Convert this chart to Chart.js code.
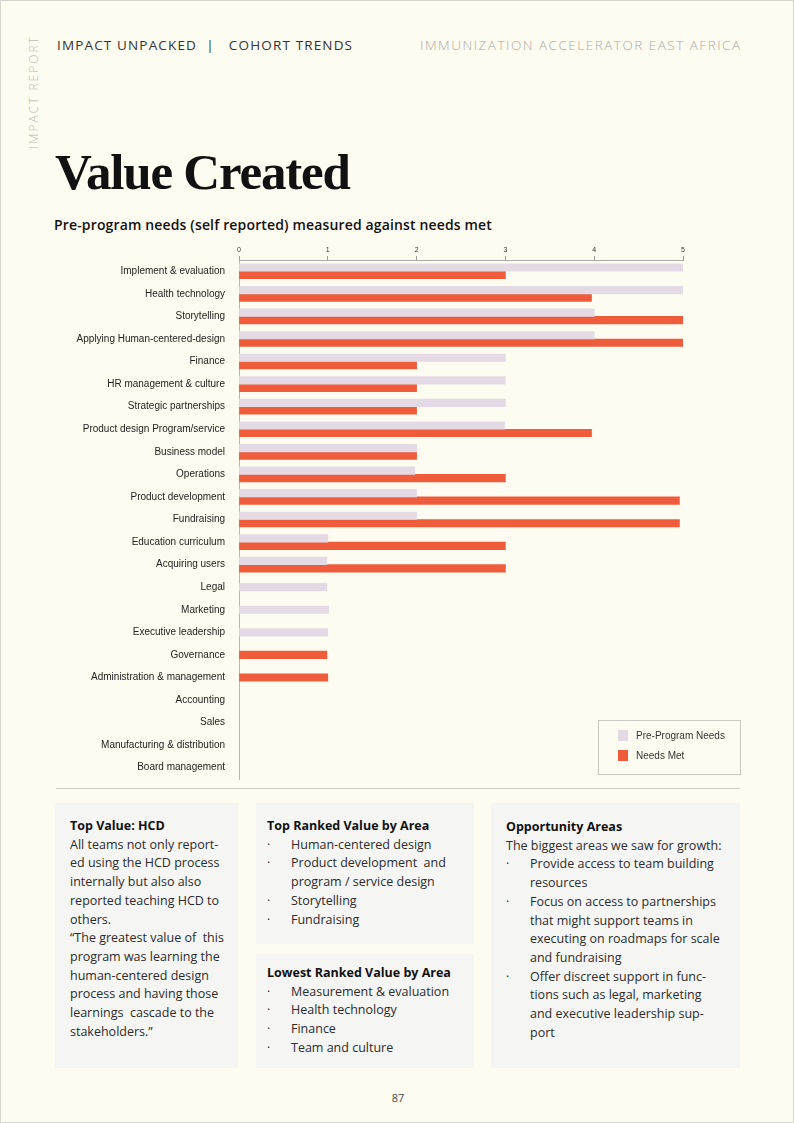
<!DOCTYPE html>
<html>
<head>
<meta charset="utf-8">
<script src="https://cdn.jsdelivr.net/npm/chart.js"></script>
<style>
  html, body { margin: 0; padding: 0; }
  body {
    width: 794px; height: 1123px; position: relative; overflow: hidden;
    background: #fefcf1; font-family: "Open Sans", sans-serif; color: #222;
    box-sizing: border-box; border: 1px solid #d6d6ce;
  }
  .abs { position: absolute; }
  .side { left: 24px; top: 148px; transform-origin: 0 0; transform: rotate(-90deg);
    font-size: 12px; letter-spacing: 2px; color: #b9b9b4; font-weight: 300; white-space: nowrap; }
  .head { top: 35px; font-size: 13.5px; font-weight: 400; white-space: nowrap; }
  .title { left: 54px; top: 142px; font-family: "Liberation Serif", serif; font-weight: bold;
    font-size: 51px; letter-spacing: -1.2px; color: #111; }
  .sub { left: 53px; top: 214px; font-size: 14px; font-weight: 600; color: #111; letter-spacing: 0.15px; }
  #chartBox { left: 40px; top: 236px; width: 660px; height: 554px; }
  .legend { left: 597px; top: 719px; width: 141px; height: 53px; border: 1px solid #c9c9c2;
    font-family: "Liberation Sans", sans-serif; font-size: 10px; color: #333; }
  .legend .item { position: absolute; left: 19px; display: flex; align-items: center; }
  .legend .sw { width: 10px; height: 11px; margin-right: 8px; }
  .rule { left: 55px; top: 787px; width: 684px; height: 1px; background: #cfcfc8; }
  .box { background: #f5f5f4; font-size: 12.5px; line-height: 18.7px; color: #2b2b2b; box-sizing: border-box; }
  .box b { font-weight: 700; color: #111; }
  .box ul { list-style: none; margin: 0; padding: 0; }
  .box li { position: relative; padding-left: 24px; }
  .box li::before { content: "\00B7"; position: absolute; left: 0; }
  .page { left: 0; width: 794px; top: 1089px; text-align: center; font-size: 11px; color: #444; }
</style>
</head>
<body>
<div class="abs side">IMPACT REPORT</div>
<div class="abs head" style="left:56px;color:#333;letter-spacing:1.15px;">IMPACT UNPACKED &nbsp;|&nbsp;&nbsp; COHORT TRENDS</div>
<div class="abs head" style="left:419px;color:#a9a9a4;font-weight:300;letter-spacing:1.5px;">IMMUNIZATION ACCELERATOR EAST AFRICA</div>
<div class="abs title">Value Created</div>
<div class="abs sub">Pre-program needs (self reported) measured against needs met</div>

<div class="abs" id="chartBox"><canvas id="valueChart"></canvas></div>
<div class="abs legend" id="legend"></div>
<div class="abs rule"></div>

<div class="abs box" style="left:54px;top:802px;width:183px;height:265px;padding:14px 0 0 15px;">
  <b>Top Value: HCD</b><br>
  All teams not only report-<br>ed using the HCD process<br>internally but also also<br>reported teaching HCD to<br>others.<br>
  “The greatest value of&nbsp; this<br>program was learning the<br>human-centered design<br>process and having those<br>learnings&nbsp; cascade to the<br>stakeholders.”
</div>
<div class="abs box" style="left:255px;top:802px;width:218px;height:141px;padding:14px 0 0 11px;">
  <b>Top Ranked Value by Area</b>
  <ul>
    <li>Human-centered design</li>
    <li>Product development&nbsp; and<br>program / service design</li>
    <li>Storytelling</li>
    <li>Fundraising</li>
  </ul>
</div>
<div class="abs box" style="left:255px;top:953px;width:218px;height:114px;padding:10px 0 0 11px;">
  <b>Lowest Ranked Value by Area</b>
  <ul>
    <li>Measurement &amp; evaluation</li>
    <li>Health technology</li>
    <li>Finance</li>
    <li>Team and culture</li>
  </ul>
</div>
<div class="abs box" style="left:490px;top:802px;width:249px;height:265px;padding:15px 0 0 15px;">
  <b>Opportunity Areas</b><br>
  The biggest areas we saw for growth:
  <ul>
    <li>Provide access to team building<br>resources</li>
    <li>Focus on access to partnerships<br>that might support teams in<br>executing on roadmaps for scale<br>and fundraising</li>
    <li>Offer discreet support in func-<br>tions such as legal, marketing<br>and executive leadership sup-<br>port</li>
  </ul>
</div>
<div class="abs page">87</div>

<script>
// Categories, top to bottom as in the chart
const categories = [
    "Implement & evaluation", "Health technology", "Storytelling",
    "Applying Human-centered-design", "Finance", "HR management & culture",
    "Strategic partnerships", "Product design Program/service", "Business model",
    "Operations", "Product development", "Fundraising", "Education curriculum",
    "Acquiring users", "Legal", "Marketing", "Executive leadership", "Governance",
    "Administration & management", "Accounting", "Sales",
    "Manufacturing & distribution", "Board management"
];

// null = no bar drawn for that category
const preProgramNeeds = [5, 5, 4, 4, 3, 3, 3, 2.99, 2, 1.98, 2, 2, 1, 0.99, 0.99, 1.01, 1,
    null, null, null, null, null, null];
const needsMet = [3, 3.97, 5, 5, 2, 2, 2, 3.97, 2, 3, 4.96, 4.96, 3, 3, null, null, null,
    0.99, 1, null, null, null, null];

const xTicks = [0, 1, 2, 3, 4, 5];

const seriesLabels = ["Pre-Program Needs", "Needs Met"];
const seriesColors = ["#e4dae6", "#ee5c3c"];

function buildLegend() {
    const legend = document.getElementById('legend');
    seriesLabels.forEach((label, i) => {
        const item = document.createElement('div');
        item.className = 'item';
        item.style.top = (9 + i * 20) + 'px';
        item.innerHTML = `<span class="sw" style="background:${seriesColors[i]}"></span>${label}`;
        legend.appendChild(item);
    });
}

function createChart() {
    const ctx = document.getElementById('valueChart');
    new Chart(ctx, {
        type: 'bar',
        data: {
            labels: categories,
            datasets: [
                { label: seriesLabels[0], data: preProgramNeeds, backgroundColor: seriesColors[0] },
                { label: seriesLabels[1], data: needsMet, backgroundColor: seriesColors[1] }
            ]
        },
        options: {
            indexAxis: 'y',
            responsive: true,
            maintainAspectRatio: false,
            animation: false,
            skipNull: true,
            barThickness: 7.5,
            layout: { padding: { top: 0, right: 18, bottom: 4, left: 0 } },
            plugins: {
                legend: { display: false },
                tooltip: { enabled: false }
            },
            scales: {
                x: {
                    position: 'top',
                    min: 0,
                    max: 5,
                    afterBuildTicks: scale => { scale.ticks = xTicks.map(v => ({ value: v })); },
                    afterFit: scale => { scale.height = 23; },
                    grid: { drawOnChartArea: false, drawTicks: true, tickLength: 4, color: '#9a9a96' },
                    border: { display: true, color: '#a8a8a2' },
                    ticks: { font: { family: 'Liberation Sans', size: 7 }, color: '#333', padding: 2 }
                },
                y: {
                    afterFit: scale => { scale.width = 198; },
                    grid: { display: false },
                    border: { display: true, color: '#b8b8b2' },
                    ticks: {
                        font: { family: 'Liberation Sans', size: 10 },
                        color: '#222',
                        padding: 6,
                        autoSkip: false
                    }
                }
            }
        }
    });
}

buildLegend();
createChart();
</script>
</body>
</html>
